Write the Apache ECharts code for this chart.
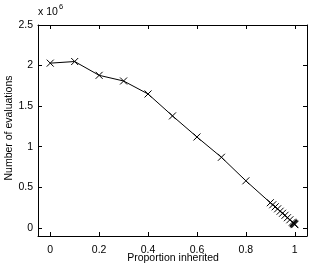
<!DOCTYPE html>
<html><head><meta charset="utf-8">
<script src="https://cdn.jsdelivr.net/npm/echarts@6/dist/echarts.min.js"></script>
<style>html,body{margin:0;padding:0;background:#fff}#c{width:312px;height:264px}</style>
</head><body><div id="c"></div>
<script>
var proportion = [0, 0.1, 0.2, 0.3, 0.4, 0.5, 0.6, 0.7, 0.8, 0.9, 0.91, 0.92, 0.93, 0.94, 0.95, 0.96, 0.97, 0.98, 0.99, 0.993, 0.995, 0.997, 0.999, 1.0];
var evaluations = [2.03, 2.05, 1.88, 1.81, 1.65, 1.38, 1.12, 0.87, 0.58, 0.31, 0.285, 0.26, 0.235, 0.205, 0.18, 0.155, 0.125, 0.1, 0.07, 0.062, 0.055, 0.05, 0.045, 0.04];
var xTicks = [0, 0.2, 0.4, 0.6, 0.8, 1];
var yTicks = [0, 0.5, 1, 1.5, 2, 2.5];

var font = 'Liberation Sans, Arial, Helvetica, sans-serif';
var data = proportion.map(function(x, i){ return [x, evaluations[i]]; });
function xAx(pos, show){
  return {type:'value', position:pos, min:-0.05, max:1.05,
    axisLine:{show:true, onZero:false, lineStyle:{color:'#000', width:1}},
    axisTick:{show:true, inside:true, length:4, customValues:xTicks, lineStyle:{color:'#000'}},
    axisLabel:{show:show, customValues:xTicks, color:'#000', fontSize:10.5, fontFamily:font, margin:9,
      formatter:function(v){ return String(+v.toFixed(2)); }},
    splitLine:{show:false}};
}
function yAx(pos, show){
  return {type:'value', position:pos, min:-0.1, max:2.5,
    axisLine:{show:true, onZero:false, lineStyle:{color:'#000', width:1}},
    axisTick:{show:true, inside:true, length:4, customValues:yTicks, lineStyle:{color:'#000'}},
    axisLabel:{show:show, customValues:yTicks, color:'#000', fontSize:10.5, fontFamily:font, margin:5,
      formatter:function(v){ return String(+v.toFixed(2)); }},
    splitLine:{show:false}};
}
var chart = echarts.init(document.getElementById('c'), null, {renderer:'canvas'});
chart.setOption({
  animation:false,
  backgroundColor:'#fff',
  grid:{left:38, top:25, right:5, bottom:28, containLabel:false},
  xAxis:[xAx('bottom', true), xAx('top', false)],
  yAxis:[yAx('left', true), yAx('right', false)],
  graphic:[
    {type:'text', x:38, y:7, style:{text:'x 10', fontSize:10.5, fontFamily:font, fill:'#000'}},
    {type:'text', x:59, y:3, style:{text:'6', fontSize:7.5, fontFamily:font, fill:'#000'}},
    {type:'text', x:173, y:253, style:{text:'Proportion inherited', fontSize:10.5, fontFamily:font, fill:'#000', align:'center', verticalAlign:'top'}},
    {type:'text', x:4, y:128, rotation:Math.PI/2, style:{text:'Number of evaluations', fontSize:10.5, fontFamily:font, fill:'#000', align:'center', verticalAlign:'top'}}
  ],
  series:[{
    type:'line', xAxisIndex:0, yAxisIndex:0, data:data,
    lineStyle:{color:'#000', width:1},
    symbol:'path://M0,0L10,10M10,0L0,10', symbolSize:7,
    itemStyle:{color:'none', borderColor:'#000', borderWidth:1},
    showSymbol:true
  }]
});
</script></body></html>
